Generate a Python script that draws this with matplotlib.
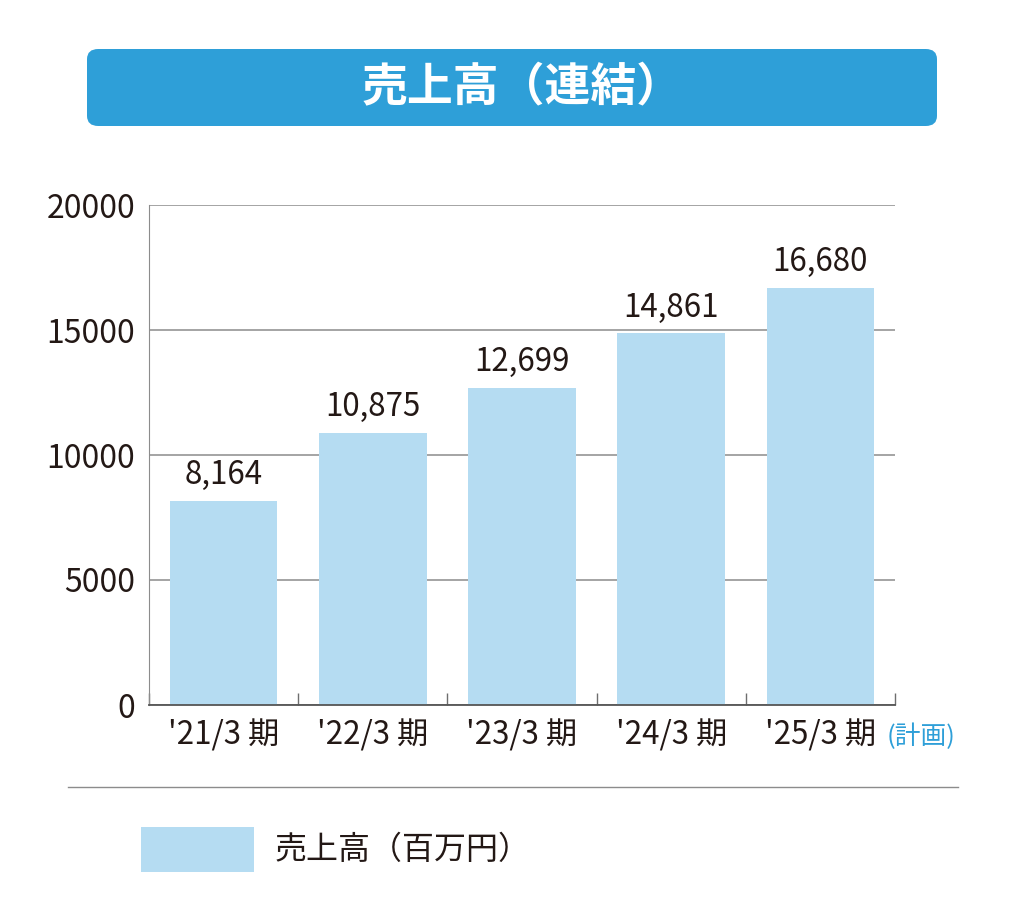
import matplotlib.pyplot as plt
from matplotlib.patches import FancyBboxPatch, Rectangle
from matplotlib.lines import Line2D

plt.rcParams['font.family'] = ['Noto Sans CJK JP', 'DejaVu Sans']

# data
periods = ["'21/3 期", "'22/3 期", "'23/3 期", "'24/3 期", "'25/3 期"]
sales = [8164, 10875, 12699, 14861, 16680]
yticks = [0, 5000, 10000, 15000, 20000]

bar_color = '#b5dcf2'
blue = '#2e9fd8'
text_color = '#231815'

fig = plt.figure(figsize=(10.24, 9.19), dpi=100)
ax = fig.add_axes([149 / 1024, 1 - 705 / 919, 746 / 1024, 500 / 919])

x = range(len(periods))
ax.bar(x, sales, width=0.72, color=bar_color, zorder=2)
for i, v in zip(x, sales):
    ax.annotate(f'{v:,}', (i, v), xytext=(0, 7), textcoords='offset points',
                ha='center', va='bottom', fontsize=22.5, color=text_color)

ax.set_xlim(-0.5, len(periods) - 0.5)
ax.set_ylim(0, 20000)
ax.set_yticks(yticks)
ax.set_yticklabels([str(t) for t in yticks], fontsize=23, color=text_color)
ax.yaxis.grid(True, color='#8c8c8c', linewidth=1.1, zorder=0)
ax.tick_params(axis='y', length=0, pad=10)

ax.set_xticks(list(x))
ax.set_xticklabels(periods, fontsize=22.5, color=text_color)
ax.set_xticks([i - 0.5 for i in range(len(periods) + 1)], minor=True)
ax.tick_params(axis='x', which='major', length=0, pad=10)
ax.tick_params(axis='x', which='minor', direction='in', length=9,
               color='#6e6e6e', width=1)

for s in ['top', 'right']:
    ax.spines[s].set_visible(False)
ax.spines['left'].set_color('#8c8c8c')
ax.spines['bottom'].set_color('#555555')
ax.spines['bottom'].set_linewidth(1.3)
ax.set_axisbelow(True)

# (計画) note
fig.text(921 / 1024, 1 - 737 / 919, '(計画)', fontsize=18.5, color=blue,
         ha='center', va='center')

# title box
fig.patches.append(FancyBboxPatch((87 / 1024, 1 - 126 / 919), 850 / 1024, 77 / 919,
                                  boxstyle='round,pad=0,rounding_size=0.011',
                                  transform=fig.transFigure, facecolor=blue,
                                  edgecolor='none'))
fig.text(522 / 1024, 1 - 88 / 919, '売上高（連結）', fontsize=33, color='white',
         fontweight='bold', ha='center', va='center')

# divider
fig.lines.append(Line2D([68 / 1024, 958 / 1024], [1 - 787 / 919, 1 - 787 / 919],
                        transform=fig.transFigure, color='#8c8c8c', linewidth=1))

# legend
fig.patches.append(Rectangle((141 / 1024, 1 - 872 / 919), 113 / 1024, 45 / 919,
                             transform=fig.transFigure, facecolor=bar_color,
                             edgecolor='none'))
fig.text(275 / 1024, 1 - 850 / 919, '売上高（百万円）', fontsize=23,
         color=text_color, ha='left', va='center')

fig.savefig('out.png', dpi=100)
